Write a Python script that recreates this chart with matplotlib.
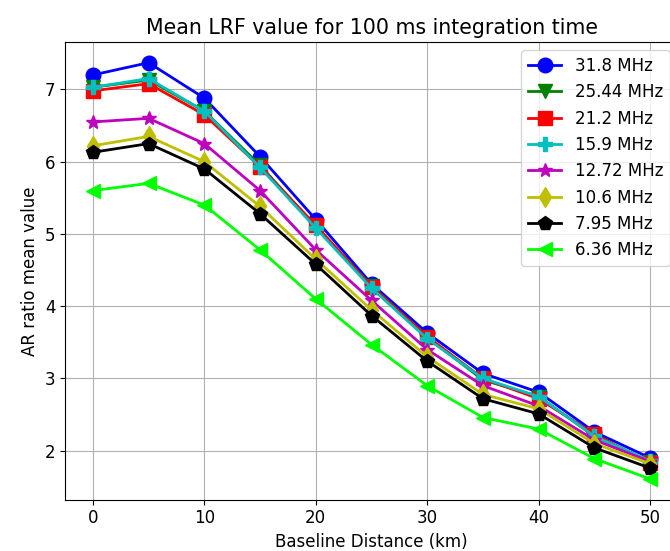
import matplotlib
matplotlib.use("Agg")
import matplotlib.pyplot as plt

distance = [0, 5, 10, 15, 20, 25, 30, 35, 40, 45, 50]
labels = ["31.8 MHz", "25.44 MHz", "21.2 MHz", "15.9 MHz", "12.72 MHz", "10.6 MHz", "7.95 MHz", "6.36 MHz"]

f31_8 = [7.20, 7.37, 6.88, 6.07, 5.20, 4.31, 3.63, 3.07, 2.81, 2.26, 1.90]
f25_44 = [7.03, 7.13, 6.70, 5.95, 5.10, 4.28, 3.57, 2.98, 2.75, 2.20, 1.85]
f21_2 = [6.98, 7.08, 6.65, 5.93, 5.12, 4.27, 3.58, 3.00, 2.72, 2.23, 1.83]
f15_9 = [7.03, 7.15, 6.70, 5.92, 5.08, 4.25, 3.55, 3.00, 2.75, 2.20, 1.86]
f12_72 = [6.55, 6.60, 6.25, 5.60, 4.78, 4.08, 3.40, 2.90, 2.62, 2.15, 1.85]
f10_6 = [6.22, 6.35, 6.00, 5.38, 4.65, 3.95, 3.30, 2.78, 2.58, 2.10, 1.82]
f7_95 = [6.13, 6.25, 5.90, 5.28, 4.58, 3.87, 3.24, 2.72, 2.51, 2.04, 1.76]
f6_36 = [5.60, 5.70, 5.40, 4.78, 4.10, 3.47, 2.90, 2.46, 2.30, 1.89, 1.61]

series = [f31_8, f25_44, f21_2, f15_9, f12_72, f10_6, f7_95, f6_36]
styles = [("b", "o"), ("g", "v"), ("r", "s"), ("c", "P"), ("m", "*"), ("y", "d"), ("k", "p"), ("lime", "<")]

plt.rcParams["font.size"] = 12

fig = plt.figure(figsize=(6.7, 5.51), dpi=100)
ax = fig.add_axes([0.097, 0.093, 0.915, 0.831])
for vals, lab, (c, m) in zip(series, labels, styles):
    ax.plot(distance, vals, color=c, marker=m, markersize=10.5, linewidth=2, label=lab)

ax.set_title("Mean LRF value for 100 ms integration time", fontsize=14.8)
ax.set_xlabel("Baseline Distance (km)")
ax.set_ylabel("AR ratio mean value")
ax.grid(True)
ax.legend(loc="upper right")
fig.savefig("out.png", dpi=100)
